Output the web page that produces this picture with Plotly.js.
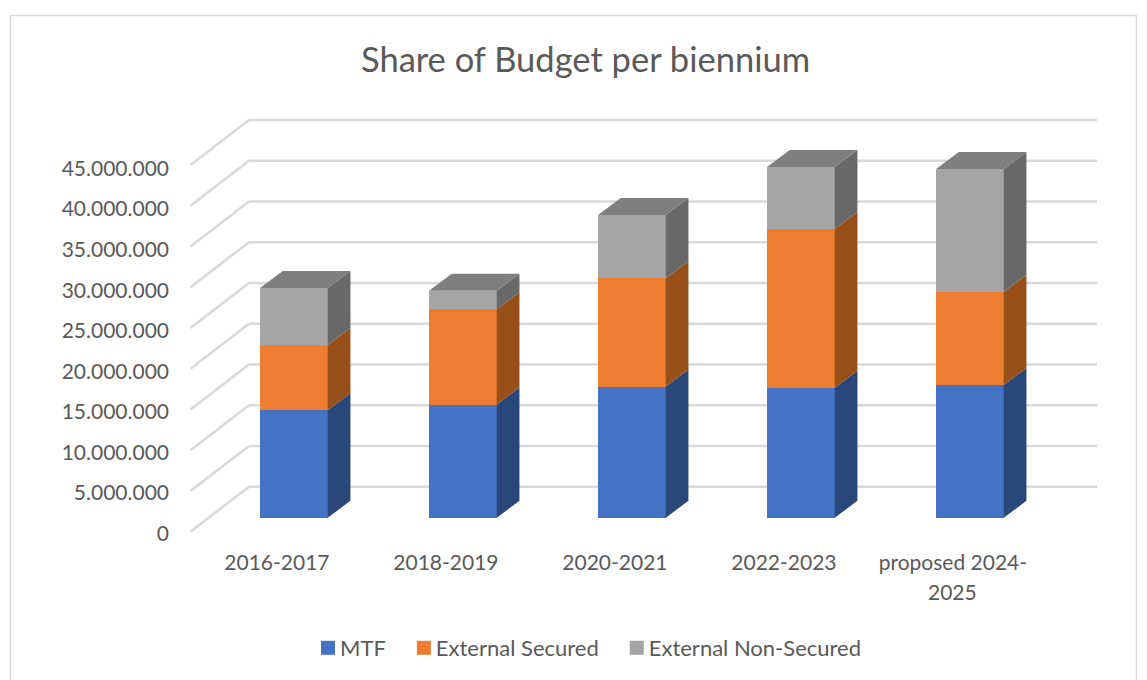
<!DOCTYPE html>
<html>
<head>
<meta charset="utf-8">
<script src="https://cdn.plot.ly/plotly-3.0.1.min.js"></script>
<style>html,body{margin:0;padding:0;background:#fff}</style>
</head>
<body>
<div id="chart" style="width:1147px;height:680px"></div>
<script>
const categories = ["2016-2017", "2018-2019", "2020-2021", "2022-2023", "proposed 2024-"];
const categoryTail = "2025";
const barPositions = [0, 1, 2, 3, 4];
const mtf = [13200000, 13900000, 16100000, 15950000, 16300000];
const externalSecured = [8000000, 11700000, 13300000, 19500000, 11400000];
const externalNonSecured = [7000000, 2250000, 7750000, 7600000, 15100000];
const yTicks = [0, 5000000, 10000000, 15000000, 20000000, 25000000, 30000000, 35000000, 40000000, 45000000];

const seriesNames = ["MTF", "External Secured", "External Non-Secured"];
const seriesValues = [mtf, externalSecured, externalNonSecured];
const frontColors = ["#4472c4", "#ed7d31", "#a5a5a5"];
const sideColors = ["#2a4779", "#97501a", "#696969"];
const topColor = "#7f7f7f";

// geometry (pixels of the page)
const W = 1147, H = 680;
const plot = {l: 188, r: 1097, t: 100, b: 536};
const pxPerX = 169, barPx = 67.7;
const x0Px = 293.9;
const xRange = [(plot.l - x0Px) / pxPerX, (plot.r - x0Px) / pxPerX];
const barWidth = barPx / pxPerX;

const labelScale = 40.55 / 5e6;
const labelZeroPx = 533.5;
const barScale = 40.75 / 5e6;
const barBasePx = 517.8;
const yRange = [-(plot.b - labelZeroPx) / labelScale, (labelZeroPx - plot.t) / labelScale];
const y2Range = [-(plot.b - barBasePx) / barScale, (barBasePx - plot.t) / barScale];
const depthX = 22.7 / pxPerX, depthY = 17 / barScale;
const wallLeft = (190.5 - x0Px) / pxPerX;
const wallX = 58.5 / pxPerX, wallY = 45 / barScale;
const wallBase = (barBasePx - 486.7) / barScale;

const traces = [];
seriesNames.forEach((name, s) => {
  traces.push({type: "bar", name, x: barPositions, y: seriesValues[s], width: barWidth,
    xaxis: "x", yaxis: "y2", marker: {color: frontColors[s], line: {width: 0}},
    hoverinfo: "y+name"});
});

// side faces
seriesNames.forEach((name, s) => {
  const xs = [], ys = [];
  barPositions.forEach((p, i) => {
    let below = 0;
    for (let k = 0; k < s; k++) below += seriesValues[k][i];
    const top = below + seriesValues[s][i];
    const xr = p + barWidth / 2;
    xs.push(xr, xr + depthX, xr + depthX, xr, xr, null);
    ys.push(below, below + depthY, top + depthY, top, below, null);
  });
  traces.push({type: "scatter", mode: "lines", x: xs, y: ys, xaxis: "x", yaxis: "y2",
    fill: "toself", fillcolor: sideColors[s], line: {width: 0, color: sideColors[s]},
    showlegend: false, hoverinfo: "skip"});
});

// top faces
{
  const xs = [], ys = [];
  barPositions.forEach((p, i) => {
    const top = mtf[i] + externalSecured[i] + externalNonSecured[i];
    const xl = p - barWidth / 2, xr = p + barWidth / 2;
    xs.push(xl, xr, xr + depthX, xl + depthX, xl, null);
    ys.push(top, top, top + depthY, top + depthY, top, null);
  });
  traces.push({type: "scatter", mode: "lines", x: xs, y: ys, xaxis: "x", yaxis: "y2",
    fill: "toself", fillcolor: topColor, line: {width: 0, color: topColor},
    showlegend: false, hoverinfo: "skip"});
}

// invisible trace so the labelled axis is drawn
traces.push({type: "scatter", mode: "markers", x: [barPositions[0]], y: [0], xaxis: "x", yaxis: "y",
  marker: {opacity: 0, size: 1}, showlegend: false, hoverinfo: "skip"});

// back wall and side wall grid
const shapes = [];
const gridStyle = {color: "#d9d9d9", width: 2.5};
yTicks.forEach(v => {
  const back = v + wallBase;
  shapes.push({type: "line", layer: "below", xref: "x", yref: "y2",
    x0: wallLeft + wallX, x1: xRange[1], y0: back, y1: back, line: gridStyle});
  shapes.push({type: "line", layer: "below", xref: "x", yref: "y2",
    x0: wallLeft, x1: wallLeft + wallX, y0: back - wallY, y1: back, line: gridStyle});
});
// outer chart frame
shapes.push({type: "rect", layer: "below", xref: "paper", yref: "paper",
  x0: (10.5 - plot.l) / (plot.r - plot.l), x1: (1136.5 - plot.l) / (plot.r - plot.l),
  y0: (plot.b - 720) / (plot.b - plot.t), y1: (plot.b - 15.5) / (plot.b - plot.t),
  line: {color: "#d9d9d9", width: 1.5}, fillcolor: "rgba(0,0,0,0)"});

const textColor = "#595959";
const font = "Lato, 'Open Sans', sans-serif";
const labelOffset = 17 / pxPerX;

const layout = {
  width: W, height: H,
  margin: {l: plot.l, r: W - plot.r, t: plot.t, b: H - plot.b, pad: 0},
  paper_bgcolor: "#ffffff", plot_bgcolor: "rgba(0,0,0,0)",
  separators: ",.",
  font: {family: font, color: textColor, size: 21},
  title: {text: "Share of Budget per biennium", font: {family: font, size: 34.5, color: textColor},
    x: 585.5 / W, xanchor: "center", y: 1 - 60 / H, yanchor: "middle"},
  barmode: "stack",
  showlegend: true,
  legend: {orientation: "h", x: 295 / W, xanchor: "left", y: 1 - 648 / H, yanchor: "middle",
    xref: "container", yref: "container", itemwidth: 35, font: {family: font, size: 22, color: textColor},
    traceorder: "normal", itemclick: false, itemdoubleclick: false},
  xaxis: {type: "linear", range: xRange, tickmode: "array",
    tickvals: barPositions.map(p => p - labelOffset), ticktext: categories,
    showgrid: false, zeroline: false, showline: false, ticks: "", ticklabelstandoff: 12,
    tickangle: 0, tickfont: {family: font, size: 21, color: textColor}},
  yaxis: {range: yRange, tickmode: "array", tickvals: yTicks, tickformat: ",.0f",
    showgrid: false, zeroline: false, showline: false, ticks: "", ticklabelstandoff: 18,
    tickfont: {family: font, size: 21, color: textColor}},
  yaxis2: {range: y2Range, overlaying: "y", side: "left", visible: false, showgrid: false, zeroline: false},
  shapes,
  annotations: [{xref: "x", yref: "paper", x: barPositions[4] - labelOffset, y: (plot.b - 591) / (plot.b - plot.t),
    text: categoryTail, showarrow: false, xanchor: "center", yanchor: "middle",
    font: {family: font, size: 21, color: textColor}}]
};

Plotly.newPlot("chart", traces, layout, {displayModeBar: false, staticPlot: true}).then(() => {
  // legend swatches sit tight against their text in the reference
  document.querySelectorAll("#chart .legend .legendsymbols").forEach(g => {
    g.setAttribute("transform", "translate(10.5,0)");
  });
  document.querySelectorAll("#chart .legend .legendpoints path").forEach(p => {
    p.setAttribute("d", "M7,7H-7V-7H7Z");
  });
});
</script>
</body>
</html>
